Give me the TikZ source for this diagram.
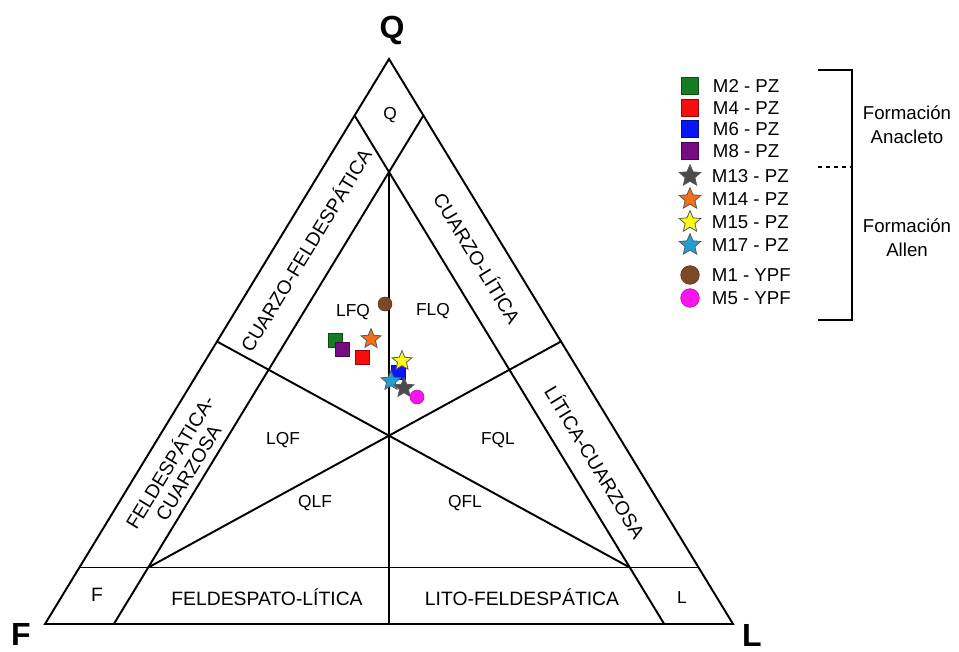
\documentclass[tikz,border=0pt]{standalone}
\usepackage{fontspec}
\setmainfont{Liberation Sans}
\usepackage{xcolor}
\usetikzlibrary{shapes.geometric}
\definecolor{mgreen}{RGB}{22,124,34}
\definecolor{mred}{RGB}{250,12,12}
\definecolor{mblue}{RGB}{10,20,250}
\definecolor{mpurple}{RGB}{120,10,130}
\definecolor{mgray}{RGB}{75,75,78}
\definecolor{morange}{RGB}{245,110,25}
\definecolor{myellow}{RGB}{255,250,20}
\definecolor{mcyan}{RGB}{30,160,210}
\definecolor{mbrown}{RGB}{125,72,38}
\definecolor{mmagenta}{RGB}{250,20,240}

\begin{document}
\begin{tikzpicture}[x=0.75pt,y=-0.75pt,line width=1.45pt,
    field/.style={font=\fontsize{13}{15}\selectfont},
    strip/.style={font=\fontsize{14.5}{16}\selectfont,align=center},
    apex/.style={font=\fontsize{24}{28}\selectfont\bfseries},
    sq/.style={rectangle,fill=#1,draw=#1!60!black,line width=0.5pt,minimum size=10.5pt,inner sep=0pt},
    st/.style={star,star points=5,star point ratio=2.2,fill=#1,draw=black!65,line width=0.6pt,minimum size=15.5pt,inner sep=0pt},
    ci/.style={circle,fill=#1,draw=#1!70!black,line width=0.4pt,minimum size=10.5pt,inner sep=0pt},
    leg/.style={anchor=west,inner sep=0pt,font=\fontsize{14}{16}\selectfont}]
    \useasboundingbox (0,0) rectangle (959,652);

    % Vertices
    \coordinate (Q) at (389,59);
    \coordinate (F) at (45,624);
    \coordinate (L) at (733,624);
    \coordinate (C) at (barycentric cs:Q=1,F=1,L=1);

    % Outer triangle
    \draw (Q) -- (F) -- (L) -- cycle;

    % Lines at 10 %
    \draw (barycentric cs:Q=0.1,F=0.9) -- (barycentric cs:Q=0.1,L=0.9);
    \draw (barycentric cs:Q=0.9,L=0.1) -- (barycentric cs:F=0.9,L=0.1);
    \draw (barycentric cs:Q=0.9,F=0.1) -- (barycentric cs:L=0.9,F=0.1);

    % Field limits
    \draw (barycentric cs:Q=0.8,F=0.1,L=0.1) -- (barycentric cs:F=1,L=1);
    \draw (C) -- (barycentric cs:Q=1,F=1);
    \draw (C) -- (barycentric cs:Q=1,L=1);
    \draw (C) -- (barycentric cs:Q=0.1,F=0.8,L=0.1);
    \draw (C) -- (barycentric cs:Q=0.1,F=0.1,L=0.8);

    % Vertex labels
    \node[apex] (tQ) at (392,30) {Q};
    \node[apex,anchor=base,inner sep=0pt] (tF) at (21,645) {F};
    \node[apex,anchor=base,inner sep=0pt] (tL) at (752,646) {L};

    % Corner boxes
    \node[field] (bQ) at (390,115) {Q};
    \node[strip] (bF) at (97,595) {F};
    \node[field] (bL) at (682,598) {L};

    % Fields
    \node[field] (lfq) at (353,312) {LFQ};
    \node[field] (flq) at (433,311) {FLQ};
    \node[field] (lqf) at (283,440) {LQF};
    \node[field] (fql) at (498,440) {FQL};
    \node[field] (qlf) at (315,503) {QLF};
    \node[field] (qfl) at (465,503) {QFL};

    % Strips
    \node[strip] (fl) at (267,597) {FELDESPATO-LÍTICA};
    \node[strip] (lf) at (522,597) {LITO-FELDESPÁTICA};
    \node[strip,rotate=58.7] (qf) at (305,250) {CUARZO-FELDESPÁTICA};
    \node[strip,rotate=58.7] (fq) at (178,467) {FELDESPÁTICA-\\CUARZOSA};
    \node[strip,rotate=-58.7] (ql) at (478,258) {CUARZO-LÍTICA};
    \node[strip,rotate=-58.7] (lq) at (596,462) {LÍTICA-CUARZOSA};

    % Samples
    \node[ci=mbrown] (m1) at (385,304) {};
    \node[sq=mgreen] (m2) at (335,340) {};
    \node[sq=mpurple] (m8) at (342,349) {};
    \node[sq=mred] (m4) at (362,357) {};
    \node[st=morange] (m14) at (371,339) {};
    \node[sq=mblue] (m6) at (398,372) {};
    \node[st=myellow] (m15) at (402,361) {};
    \node[st=mcyan] (m17) at (391,381) {};
    \node[st=mgray] (m13) at (404,388) {};
    \node[ci=mmagenta] (m5) at (417,397) {};

    % Legend
    \foreach \n/\c/\y in {M2/mgreen/86,M4/mred/108,M6/mblue/129,M8/mpurple/151}{
        \node[sq=\c,minimum size=13pt] (k\n) at (690,\y) {};
        \node[leg] (t\n) at (712,\y) {\n\ - PZ};
    }
    \foreach \n/\c/\y in {M13/mgray/176,M14/morange/199,M15/myellow/222,M17/mcyan/245}{
        \node[st=\c,minimum size=17pt] (k\n) at (690,\y) {};
        \node[leg] (t\n) at (711,\y) {\n\ - PZ};
    }
    \foreach \n/\c/\y in {M1/mbrown/275,M5/mmagenta/298}{
        \node[ci=\c,minimum size=14pt] (k\n) at (690,\y) {};
        \node[leg] (t\n) at (711,\y) {\n\ - YPF};
    }

    % Formations
    \draw[line width=0.8pt] (818,70) -- (852,70) -- (852,320) -- (818,320);
    \draw[line width=0.8pt,dashed] (818,167) -- (852,167);
    \node[strip,font=\fontsize{14}{18}\selectfont] (fa) at (907,125) {Formación\\Anacleto};
    \node[strip,font=\fontsize{14}{18}\selectfont] (fb) at (907,238) {Formación\\Allen};
\end{tikzpicture}
\end{document}
